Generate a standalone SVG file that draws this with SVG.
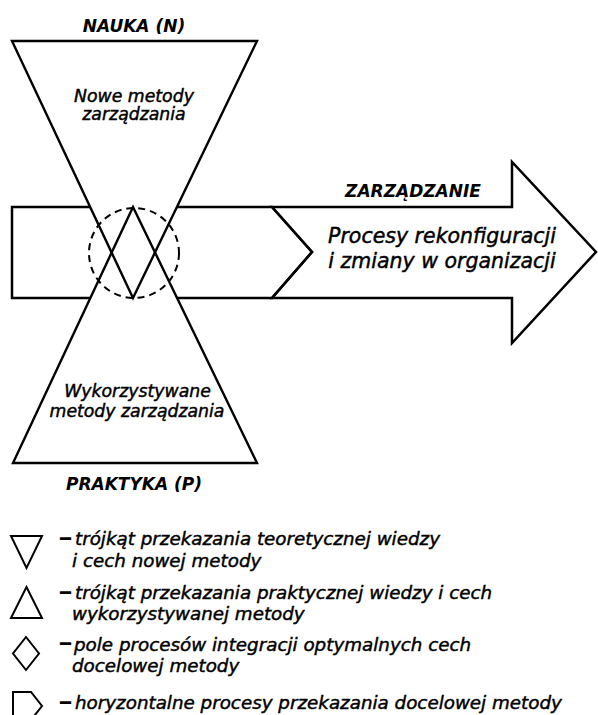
<svg xmlns="http://www.w3.org/2000/svg" xmlns:xlink="http://www.w3.org/1999/xlink" width="598" height="715" viewBox="0 0 598 715">
<style>
  .ln { fill: none; stroke: #000; stroke-width: 2.5; stroke-linejoin: miter; }
  .tri { fill: none; stroke: #000; stroke-width: 2.4; }
  .wf { fill: #fff; stroke: none; }
  .dash { fill: none; stroke: #000; stroke-width: 2; stroke-dasharray: 7 5; }
  .ic { fill: none; stroke: #000; stroke-width: 2; }
  text { font-family: "DejaVu Sans", Verdana, sans-serif; font-style: italic; fill: #000; stroke: #000; stroke-width: 0.45; }
  .title { font-size: 17px; font-weight: bold; text-anchor: middle; stroke-width: 0; }
  .inner { font-size: 17.3px; text-anchor: middle; }
  .big { font-size: 20.5px; text-anchor: middle; }
  .leg { font-size: 18.3px; }
  .b { font-weight: bold; font-size: 11px; font-style: normal; stroke-width: 1.4; }
</style>
<defs>
  <polygon id="triDown" points="12,41 257,41 133,298"/>
  <polygon id="triUp" points="13,463 257,463 133,207"/>
</defs>
<rect width="598" height="715" fill="#fff"/>

<g id="horizontal-processes">
  <polygon class="ln" points="12,207 272,207 312,252 272,298 12,298"/>
</g>
<g id="zarzadzanie">
  <polygon class="ln" points="272,207 512,207 512,162 596,252 512,343 512,298 272,298 312,252"/>
  <text class="title" x="413" y="197">ZARZĄDZANIE</text>
  <text class="big" x="442" y="243">Procesy rekonfiguracji</text>
  <text class="big" x="442" y="268">i zmiany w organizacji</text>
</g>

<g id="triangle-fills">
  <use xlink:href="#triDown" class="wf"/>
  <use xlink:href="#triUp" class="wf"/>
</g>

<g id="nauka">
  <use xlink:href="#triDown" class="tri"/>
  <text class="title" x="134" y="32">NAUKA (N)</text>
  <text class="inner" x="134" y="102">Nowe metody</text>
  <text class="inner" x="134" y="120">zarządzania</text>
</g>
<g id="praktyka">
  <use xlink:href="#triUp" class="tri"/>
  <text class="inner" x="137.5" y="397">Wykorzystywane</text>
  <text class="inner" x="137" y="417">metody zarządzania</text>
  <text class="title" x="134" y="490">PRAKTYKA (P)</text>
</g>
<g id="integration-field">
  <circle class="dash" cx="134" cy="253" r="45"/>
</g>
<g id="connectors"></g>

<g id="legend">
  <polygon class="ic" points="11,536 42,536 26.5,568"/>
  <text class="leg" x="60" y="542"><tspan class="b">—</tspan><tspan x="75" y="545">trójkąt przekazania teoretycznej wiedzy</tspan></text>
  <text class="leg" x="72" y="567">i cech nowej metody</text>

  <polygon class="ic" points="11,618 42,618 26.5,587"/>
  <text class="leg" x="60" y="596"><tspan class="b">—</tspan><tspan x="75" y="599">trójkąt przekazania praktycznej wiedzy i cech</tspan></text>
  <text class="leg" x="72" y="620">wykorzystywanej metody</text>

  <polygon class="ic" points="26,637 39,653.5 26,670 13,653.5"/>
  <text class="leg" x="60" y="647"><tspan class="b">—</tspan><tspan x="74" y="651">pole procesów integracji optymalnych cech</tspan></text>
  <text class="leg" x="72" y="672">docelowej metody</text>

  <polygon class="ic" points="13,692 31,692 42,706 31,720 13,720"/>
  <text class="leg" x="60" y="706"><tspan class="b">—</tspan><tspan x="75" y="709">horyzontalne procesy przekazania docelowej metody</tspan></text>
</g>
</svg>
